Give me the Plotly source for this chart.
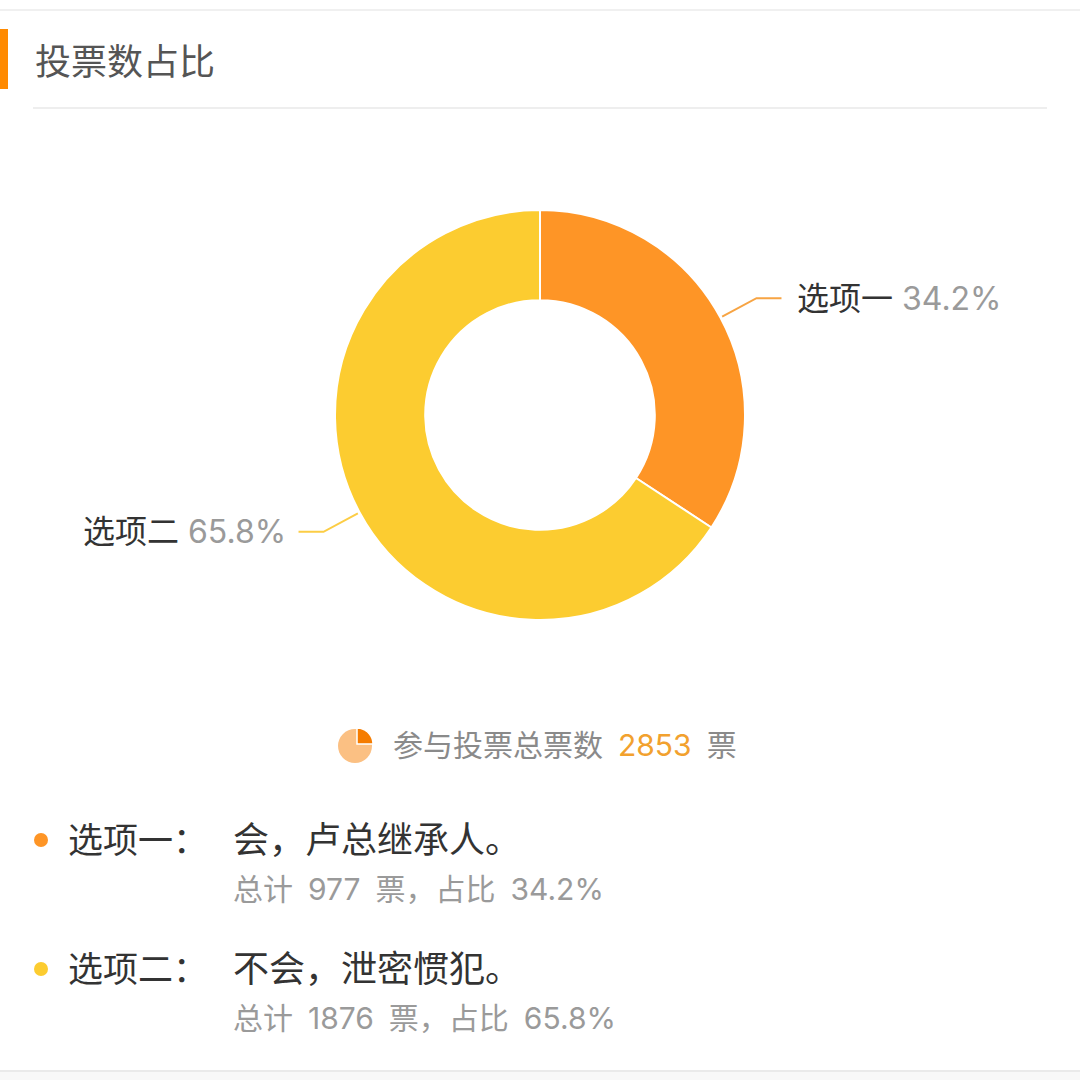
import math
import plotly.graph_objects as go

# ---- data ----
options = ["选项一", "选项二"]
answers = ["会，卢总继承人。", "不会，泄密惯犯。"]
votes = [977, 1876]
slice_colors = ["#FE9526", "#FCCC30"]
line_colors = ["#F7A443", "#FCCD45"]
title_text = "投票数占比"

total = sum(votes)
pcts = [v / total * 100 for v in votes]

W = H = 1080
FONT = "Inter, Noto Sans CJK SC, sans-serif"
SP = "\u2002"  # wider gap between CJK and Latin runs


def px(x):
    return x / W


def py(y):
    return 1 - y / H


# donut geometry (pixels)
CX, CY, R = 540, 415, 205

fig = go.Figure()
fig.add_trace(go.Pie(
    values=votes,
    labels=options,
    sort=False,
    direction="clockwise",
    rotation=0,
    hole=0.56,
    marker=dict(colors=slice_colors, line=dict(color="white", width=2)),
    textinfo="none",
    showlegend=False,
    domain=dict(x=[px(CX - R), px(CX + R)], y=[py(CY + R), py(CY - R)]),
))

shapes = []
annotations = []

# outer label leader lines computed from slice mid-angles
cum = 0.0
for name, pct, col in zip(options, pcts, line_colors):
    mid = (cum + pct / 2) / 100 * 2 * math.pi
    cum += pct
    sx, sy = math.sin(mid), -math.cos(mid)
    x1, y1 = CX + 207 * sx, CY + 207 * sy
    x2, y2 = CX + 246 * sx, CY + 246 * sy
    right = sx >= 0
    x3 = x2 + (25 if right else -25)
    shapes.append(dict(type="path", xref="paper", yref="paper",
                       path=f"M {px(x1)},{py(y1)} L {px(x2)},{py(y2)} L {px(x3)},{py(y2)}",
                       line=dict(color=col, width=2)))
    annotations.append(dict(
        xref="paper", yref="paper",
        x=px(x3 + (14 if right else -11)), y=py(y2),
        xanchor="left" if right else "right", yanchor="middle",
        text=f"{name}<span style='color:#9A9A9A'> {pct:.1f}%</span>",
        showarrow=False, font=dict(family=FONT, size=32, color="#333333"),
    ))

# header decorations
shapes += [
    dict(type="line", xref="paper", yref="paper", x0=0, x1=1, y0=py(10), y1=py(10),
         line=dict(color="#EBEBEB", width=1.5)),
    dict(type="rect", xref="paper", yref="paper", x0=px(-6), x1=px(8), y0=py(89), y1=py(29),
         fillcolor="#FF8A00", line=dict(width=0)),
    dict(type="line", xref="paper", yref="paper", x0=px(33), x1=px(1047), y0=py(108), y1=py(108),
         line=dict(color="#E8E8E8", width=1.5)),
    dict(type="line", xref="paper", yref="paper", x0=0, x1=1, y0=py(1071), y1=py(1071),
         line=dict(color="#E3E3E3", width=1.5)),
    dict(type="rect", xref="paper", yref="paper", x0=0, x1=1, y0=0, y1=py(1072),
         fillcolor="#F8F8F8", line=dict(width=0)),
]
annotations.append(dict(xref="paper", yref="paper", x=px(33), y=py(62), xanchor="left",
                        yanchor="middle", text=title_text, showarrow=False,
                        font=dict(family=FONT, size=36, color="#555555")))

# total-votes row with small pie icon
ix, iy, ir = 355, 746, 17
shapes.append(dict(type="circle", xref="paper", yref="paper",
                   x0=px(ix - ir), x1=px(ix + ir), y0=py(iy + ir), y1=py(iy - ir),
                   fillcolor="#FBC083", line=dict(width=0)))
qx, qy, qr = ix + 2, iy - 2, 16
pts = [f"M {px(qx)},{py(qy)}", f"L {px(qx)},{py(qy - qr)}"]
for k in range(1, 13):
    a = k / 12 * math.pi / 2
    pts.append(f"L {px(qx + qr * math.sin(a))},{py(qy - qr * math.cos(a))}")
pts.append("Z")
shapes.append(dict(type="path", xref="paper", yref="paper", path=" ".join(pts),
                   fillcolor="#F57C00", line=dict(color="white", width=1.5)))
annotations.append(dict(
    xref="paper", yref="paper", x=px(391), y=py(745), xanchor="left", yanchor="middle",
    text=f"参与投票总票数{SP}<span style='color:#F2A12E'>{total}</span>{SP}票",
    showarrow=False, font=dict(family=FONT, size=30, color="#8A8A8A")))

# detail list
row_y = [840, 969]
for name, ans, v, pct, col, ry in zip(options, answers, votes, pcts, slice_colors, row_y):
    shapes.append(dict(type="circle", xref="paper", yref="paper",
                       x0=px(34), x1=px(48), y0=py(ry + 7), y1=py(ry - 7),
                       fillcolor=col, line=dict(width=0)))
    annotations.append(dict(xref="paper", yref="paper", x=px(66), y=py(ry), xanchor="left",
                            yanchor="middle", text=f"{name}：", showarrow=False,
                            font=dict(family=FONT, size=35, color="#333333")))
    annotations.append(dict(xref="paper", yref="paper", x=px(231), y=py(ry), xanchor="left",
                            yanchor="middle", text=ans, showarrow=False,
                            font=dict(family=FONT, size=36, color="#333333")))
    annotations.append(dict(xref="paper", yref="paper", x=px(231), y=py(ry + 49), xanchor="left",
                            yanchor="middle",
                            text=f"总计{SP}{v}{SP}票，占比{SP}{pct:.1f}%", showarrow=False,
                            font=dict(family=FONT, size=30, color="#9A9A9A")))

fig.update_layout(
    width=W, height=H,
    margin=dict(l=0, r=0, t=0, b=0),
    paper_bgcolor="white", plot_bgcolor="white",
    shapes=shapes, annotations=annotations,
)

fig.write_html("out.html", config={"displayModeBar": False},
               post_script="document.body.style.margin='0';")
